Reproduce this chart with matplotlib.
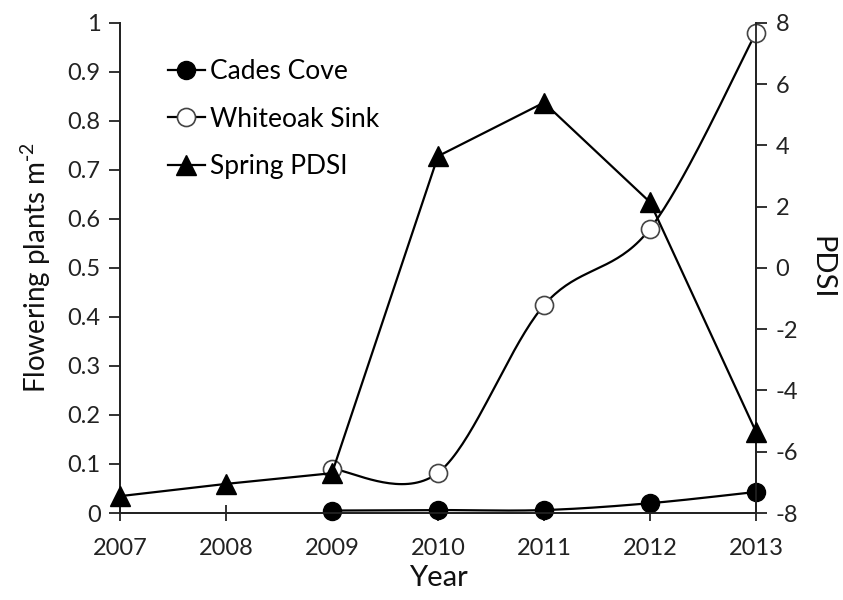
import numpy as np
import matplotlib
matplotlib.use("Agg")
import matplotlib.pyplot as plt
from matplotlib.lines import Line2D

plt.rcParams['font.family'] = ['Lato', 'DejaVu Sans']
plt.rcParams['axes.unicode_minus'] = False
plt.rcParams['mathtext.default'] = 'regular'

years_sites = [2009, 2010, 2011, 2012, 2013]
cades_cove = [0.005, 0.006, 0.006, 0.020, 0.043]
whiteoak_sink = [0.090, 0.082, 0.424, 0.580, 0.980]

years_pdsi = [2007, 2008, 2009, 2010, 2011, 2012, 2013]
spring_pdsi = [-7.45, -7.05, -6.7, 3.65, 5.4, 2.15, -5.35]

x_ticks = [2007, 2008, 2009, 2010, 2011, 2012, 2013]
left_ticks = [0, 0.1, 0.2, 0.3, 0.4, 0.5, 0.6, 0.7, 0.8, 0.9, 1]
left_tick_labels = ['0', '0.1', '0.2', '0.3', '0.4', '0.5', '0.6', '0.7', '0.8', '0.9', '1']
right_ticks = [-8, -6, -4, -2, 0, 2, 4, 6, 8]


def smooth_curve(xs, ys, n=40):
    """Piecewise cubic Bezier through the points (spreadsheet-style smoothing)."""
    xs = np.asarray(xs, float)
    ys = np.asarray(ys, float)
    pts = np.column_stack([xs, ys])
    out = []
    for i in range(len(pts) - 1):
        p0 = pts[i]
        p3 = pts[i + 1]
        pm = pts[i - 1] if i > 0 else pts[i]
        pp = pts[i + 2] if i + 2 < len(pts) else pts[i + 1]
        c1 = p0 + (p3 - pm) / 6.0
        c2 = p3 - (pp - p0) / 6.0
        t = np.linspace(0, 1, n)[:, None]
        seg = ((1 - t) ** 3) * p0 + 3 * ((1 - t) ** 2) * t * c1 + 3 * (1 - t) * t ** 2 * c2 + t ** 3 * p3
        out.append(seg if i == 0 else seg[1:])
    curve = np.vstack(out)
    return curve[:, 0], curve[:, 1]


fig = plt.figure(figsize=(8.43, 6.0), dpi=100)
ax = fig.add_axes([0.1423, 0.145, 0.8968 - 0.1423, 0.9617 - 0.145])
ax2 = ax.twinx()

lw = 1.6
ms = 13

# Flowering density curves (left axis)
cx, cy = smooth_curve(years_sites, cades_cove)
ax.plot(cx, cy, color='black', lw=lw, zorder=3)
ax.plot(years_sites, cades_cove, linestyle='none', marker='o', ms=ms,
        mfc='black', mec='black', zorder=4, clip_on=False)

wx, wy = smooth_curve(years_sites, whiteoak_sink)
ax.plot(wx, wy, color='black', lw=lw, zorder=3)
ax.plot(years_sites, whiteoak_sink, linestyle='none', marker='o', ms=ms,
        mfc='white', mec='#444444', mew=1.2, zorder=4, clip_on=False)

# Spring PDSI (right axis)
ax2.plot(years_pdsi, spring_pdsi, color='black', lw=lw, marker='^', ms=ms + 1,
         mfc='black', mec='black', clip_on=False, zorder=3)

ax.set_xlim(2007, 2013)
ax.set_ylim(0, 1)
ax2.set_ylim(-8, 8)

ax.set_xticks(x_ticks)
ax.set_xticklabels([str(v) for v in x_ticks])
ax.set_yticks(left_ticks)
ax.set_yticklabels(left_tick_labels)
ax2.set_yticks(right_ticks)
ax2.set_yticklabels([str(v) for v in right_ticks])

for a in (ax, ax2):
    a.spines['top'].set_visible(False)
    for s in ('left', 'right', 'bottom'):
        a.spines[s].set_linewidth(1.3)
        a.spines[s].set_color('#222222')

ax.tick_params(axis='x', direction='inout', length=12, width=1.3, labelsize=17,
               pad=12, colors='#222222')
ax.tick_params(axis='y', direction='out', length=8, width=1.3, labelsize=17,
               pad=6, colors='#222222')
ax2.tick_params(axis='y', direction='out', length=8, width=1.3, labelsize=17,
                pad=6, colors='#222222')

ax.set_xlabel('Year', fontsize=21, labelpad=4, color='#111111')
ax.set_ylabel(r'Flowering plants m$^{\text{-}2}$', fontsize=20, labelpad=10, color='#111111')
ax2.set_ylabel('PDSI', fontsize=21, rotation=270, labelpad=26, color='#111111')

handles = [
    Line2D([], [], color='black', lw=lw, marker='o', ms=ms, mfc='black', mec='black'),
    Line2D([], [], color='black', lw=lw, marker='o', ms=ms, mfc='white', mec='#444444', mew=1.2),
    Line2D([], [], color='black', lw=lw, marker='^', ms=ms + 1, mfc='black', mec='black'),
]
labels = ['Cades Cove', 'Whiteoak Sink', 'Spring PDSI']
ax2.legend(handles, labels, loc='upper left', bbox_to_anchor=(0.075, 0.926),
           frameon=False, fontsize=19, handlelength=1.4, handletextpad=0.2,
           labelspacing=0.85, borderaxespad=0, borderpad=0)

fig.savefig('out.png', dpi=100)
